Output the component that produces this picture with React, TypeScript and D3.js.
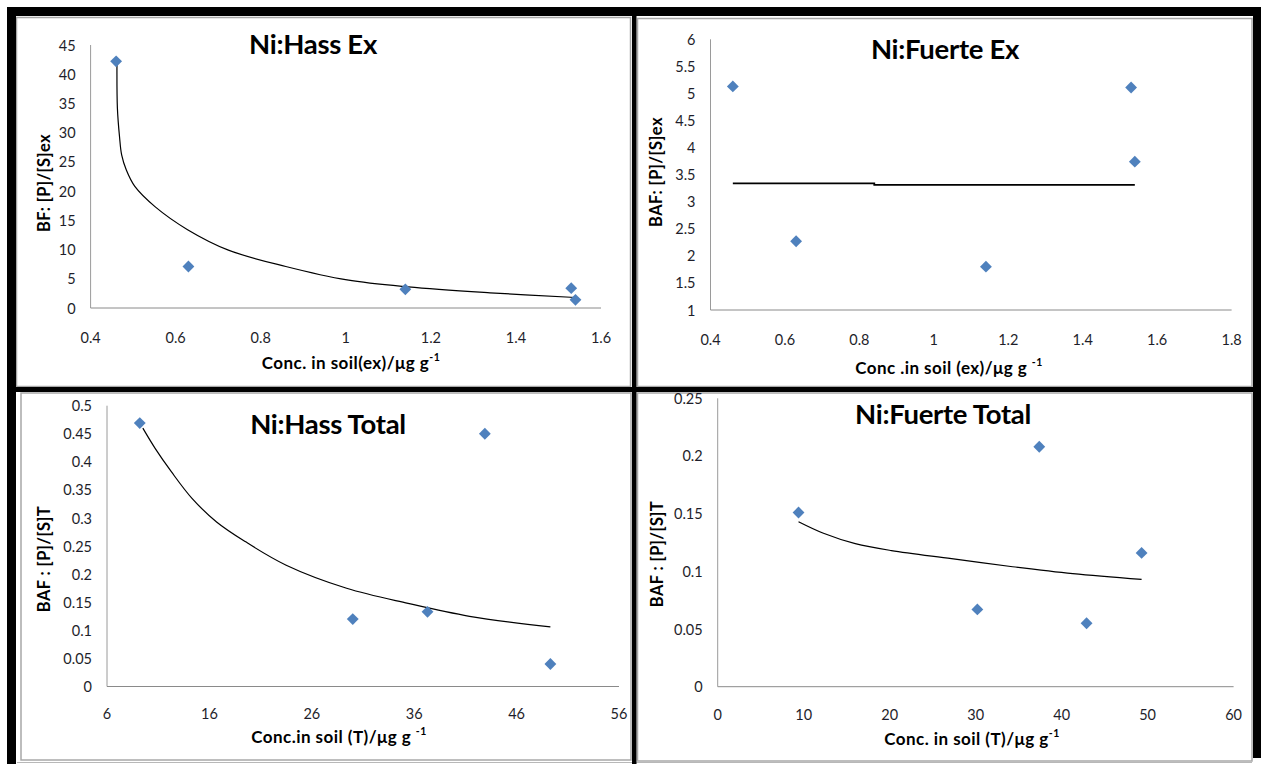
import React from "react";
import * as d3 from "d3";

// ---------- data ----------
const hassExX = [0.46, 0.63, 1.14, 1.53, 1.54];
const hassExY = [42.2, 7.1, 3.2, 3.4, 1.4];
const hassExTrendX = [0.462, 0.463, 0.468, 0.473, 0.484, 0.504, 0.552, 0.628, 0.724, 0.859, 1.003, 1.147, 1.339, 1.54];
const hassExTrendY = [41.9, 34.2, 29.3, 26.2, 23.6, 20.8, 17.3, 13.4, 9.9, 7.1, 4.8, 3.6, 2.6, 1.8];

const fuerteExX = [0.46, 0.63, 1.14, 1.53, 1.54];
const fuerteExY = [5.13, 2.27, 1.8, 5.11, 3.74];
const fuerteExTrendX = [0.46, 0.84, 0.84, 1.54];
const fuerteExTrendY = [3.34, 3.34, 3.31, 3.31];

const hassTotX = [9.2, 30.0, 37.3, 42.9, 49.3];
const hassTotY = [0.469, 0.12, 0.133, 0.45, 0.04];
const hassTotTrendX = [9.5, 10.7, 12.3, 14.3, 16.7, 19.5, 23.5, 29.4, 35.4, 41.4, 49.3];
const hassTotTrendY = [0.46, 0.424, 0.382, 0.335, 0.293, 0.258, 0.216, 0.175, 0.148, 0.125, 0.106];

const fuerteTotX = [9.4, 30.2, 37.4, 42.9, 49.3];
const fuerteTotY = [0.151, 0.067, 0.208, 0.055, 0.116];
const fuerteTotTrendX = [9.4, 12.3, 16.0, 20.2, 27.2, 34.3, 41.3, 49.3];
const fuerteTotTrendY = [0.143, 0.133, 0.124, 0.118, 0.111, 0.104, 0.098, 0.093];

const hassExXTicks = [0.4, 0.6, 0.8, 1, 1.2, 1.4, 1.6];
const hassExYTicks = [0, 5, 10, 15, 20, 25, 30, 35, 40, 45];
const fuerteExXTicks = [0.4, 0.6, 0.8, 1, 1.2, 1.4, 1.6, 1.8];
const fuerteExYTicks = [1, 1.5, 2, 2.5, 3, 3.5, 4, 4.5, 5, 5.5, 6];
const hassTotXTicks = [6, 16, 26, 36, 46, 56];
const hassTotYTicks = [0, 0.05, 0.1, 0.15, 0.2, 0.25, 0.3, 0.35, 0.4, 0.45, 0.5];
const fuerteTotXTicks = [0, 10, 20, 30, 40, 50, 60];
const fuerteTotYTicks = [0, 0.05, 0.1, 0.15, 0.2, 0.25];

const titles = ["Ni:Hass Ex", "Ni:Fuerte Ex", "Ni:Hass Total", "Ni:Fuerte Total"];
const xTitles = ["Conc. in soil(ex)/μg g", "Conc .in soil (ex)/μg g ", "Conc.in soil (T)/μg g ", "Conc. in soil (T)/μg g"];
const yTitles = ["BF: [P]/[S]ex", "BAF: [P]/[S]ex", "BAF : [P]/[S]T", "BAF : [P]/[S]T"];

// ---------- layout ----------
const panels = [
  {
    x: hassExX, y: hassExY, tx: hassExTrendX, ty: hassExTrendY,
    xTicks: hassExXTicks, yTicks: hassExYTicks,
    xd: [0.4, 1.6], xr: [90.6, 601], yd: [0, 45], yr: [308, 45],
    title: titles[0], titlePos: [313, 43], xTitle: xTitles[0], xTitlePos: [351, 362],
    yTitle: yTitles[0], yTitlePos: [44, 183], thick: 1.2, smooth: true, tickDy: 29,
  },
  {
    x: fuerteExX, y: fuerteExY, tx: fuerteExTrendX, ty: fuerteExTrendY,
    xTicks: fuerteExXTicks, yTicks: fuerteExYTicks,
    xd: [0.4, 1.8], xr: [710.5, 1231.6], yd: [1, 6], yr: [310, 39.3],
    title: titles[1], titlePos: [945, 48], xTitle: xTitles[1], xTitlePos: [949, 367],
    yTitle: yTitles[1], yTitlePos: [656, 172], thick: 1.8, smooth: false, tickDy: 29,
  },
  {
    x: hassTotX, y: hassTotY, tx: hassTotTrendX, ty: hassTotTrendY,
    xTicks: hassTotXTicks, yTicks: hassTotYTicks,
    xd: [6, 56], xr: [107, 619], yd: [0, 0.5], yr: [686.5, 405.7],
    title: titles[2], titlePos: [328, 423], xTitle: xTitles[2], xTitlePos: [339, 736],
    yTitle: yTitles[2], yTitlePos: [44, 559], thick: 1.2, smooth: true, tickDy: 26.5,
  },
  {
    x: fuerteTotX, y: fuerteTotY, tx: fuerteTotTrendX, ty: fuerteTotTrendY,
    xTicks: fuerteTotXTicks, yTicks: fuerteTotYTicks,
    xd: [0, 60], xr: [717.7, 1233.6], yd: [0, 0.25], yr: [686.7, 398.3],
    title: titles[3], titlePos: [943, 413], xTitle: xTitles[3], xTitlePos: [972, 738],
    yTitle: yTitles[3], yTitlePos: [657, 554], thick: 1.2, smooth: true, tickDy: 27.5,
  },
];

const FONT = "Lato, 'Open Sans', sans-serif";
const diamond = d3.symbol().type(d3.symbolSquare).size(70)();

function Panel({ p }: { p: any }) {
  const xs = d3.scaleLinear().domain(p.xd).range(p.xr);
  const ys = d3.scaleLinear().domain(p.yd).range(p.yr);
  const pts = p.tx.map((v: number, i: number) => [v, p.ty[i]] as [number, number]);
  const line = d3
    .line<[number, number]>()
    .x((d) => xs(d[0]))
    .y((d) => ys(d[1]))
    .curve(p.smooth ? d3.curveCatmullRom.alpha(0.5) : d3.curveLinear);
  const x0 = xs(p.xd[0]);
  const y0 = ys(p.yd[0]);
  return (
    <g>
      {/* axes */}
      <line x1={x0} x2={x0} y1={ys(p.yd[1])} y2={y0} stroke="#9a9a9a" strokeWidth={1} />
      <line x1={x0} x2={xs(p.xd[1])} y1={y0} y2={y0} stroke="#8a8a8a" strokeWidth={1} />
      {p.yTicks.map((t: number) => (
        <text key={"y" + t} x={x0 - 15} y={ys(t)} textAnchor="end" dominantBaseline="central"
          fontFamily={FONT} fontSize={14.5} fill="#1e1e2a">{String(t)}</text>
      ))}
      {p.xTicks.map((t: number) => (
        <text key={"x" + t} x={xs(t)} y={y0 + p.tickDy} textAnchor="middle" dominantBaseline="central"
          fontFamily={FONT} fontSize={14.5} fill="#1e1e2a">{String(t)}</text>
      ))}
      {/* trendline */}
      <path d={line(pts) || ""} fill="none" stroke="#000" strokeWidth={p.thick} />
      {/* points */}
      {p.x.map((v: number, i: number) => (
        <path key={"p" + i} d={diamond || ""} transform={`translate(${xs(v)},${ys(p.y[i])}) rotate(45)`} fill="#4f81bd" />
      ))}
      {/* titles */}
      <text x={p.titlePos[0]} y={p.titlePos[1]} textAnchor="middle" dominantBaseline="central"
        fontFamily={FONT} fontWeight="bold" fontSize={27.5} letterSpacing={-0.3} fill="#000">{p.title}</text>
      <text x={p.xTitlePos[0]} y={p.xTitlePos[1]} textAnchor="middle" dominantBaseline="central"
        fontFamily={FONT} fontWeight="bold" fontSize={17} letterSpacing={0.45} fill="#000">
        {p.xTitle}
        <tspan fontSize={10.5} dy={-5}>-1</tspan>
      </text>
      <text transform={`translate(${p.yTitlePos[0]},${p.yTitlePos[1]}) rotate(-90)`} textAnchor="middle"
        dominantBaseline="central" fontFamily={FONT} fontWeight="bold" fontSize={16.5} letterSpacing={0.4} fill="#000">
        {p.yTitle}
      </text>
    </g>
  );
}

export default function App() {
  return (
    <svg width={1261} height={764} style={{ position: "absolute", left: 0, top: 0, display: "block", background: "#fff" }}>
      <rect x={0} y={0} width={1261} height={764} fill="#fff" />
      {/* grey panel frames */}
      <rect x={16.5} y={17.5} width={614} height={369} fill="none" stroke="#a8a8a8" strokeWidth={1.5} />
      <rect x={637.5} y={18.5} width={614.5} height={368} fill="none" stroke="#a8a8a8" strokeWidth={1.5} />
      <rect x={21} y={393} width={610} height={367} fill="none" stroke="#a8a8a8" strokeWidth={1.5} />
      <rect x={637.5} y={393} width={614.5} height={368} fill="none" stroke="#a8a8a8" strokeWidth={1.5} />
      <line x1={17} x2={1252} y1={762.5} y2={762.5} stroke="#b8b8b8" strokeWidth={1} />
      {/* black frame */}
      <rect x={7} y={7} width={1254} height={9} fill="#000" />
      <rect x={7} y={7} width={9} height={757} fill="#000" />
      <rect x={1253} y={7} width={8} height={751} fill="#000" />
      <rect x={632} y={7} width={4.5} height={757} fill="#000" />
      <rect x={7} y={387} width={1247} height={5} fill="#000" />
      {panels.map((p, i) => (
        <Panel key={i} p={p} />
      ))}
    </svg>
  );
}
